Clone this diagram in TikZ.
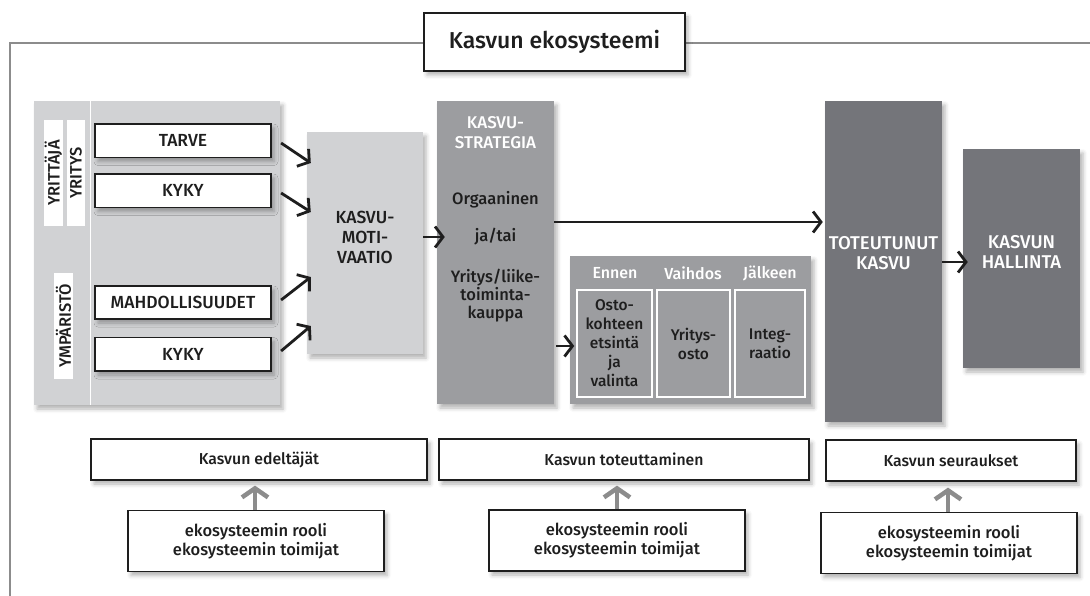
\documentclass[tikz,border=0pt]{standalone}
\usepackage{fontspec}
\setmainfont{Fira Sans Medium}
\usetikzlibrary{arrows.meta,shadows.blur}
\definecolor{ink}{HTML}{1E1E1E}
\definecolor{panel}{HTML}{D1D2D4}
\definecolor{mid}{HTML}{9C9DA0}
\definecolor{dark}{HTML}{74757A}
\definecolor{frame}{HTML}{8C8C8C}
\tikzset{
  dropsh/.style={blur shadow={shadow xshift=3pt, shadow yshift=-4pt, shadow blur radius=4pt, shadow opacity=30}},
  frameline/.style={draw=frame, line width=1.5pt},
  whitebox/.style={draw=ink, line width=1.2pt, fill=white, inner sep=0pt, text=ink, align=center, dropsh},
  panelbox/.style={fill=panel, inner sep=0pt, dropsh},
  midbox/.style={fill=mid, inner sep=0pt, dropsh},
  darkbox/.style={fill=dark, inner sep=0pt, dropsh},
  strip/.style={fill=white, inner sep=0pt, rotate=90, minimum width=106, minimum height=18.5, text=ink, font=\fontsize{16.5}{18}\selectfont},
  subbox/.style={draw=white, line width=1.5pt, fill=mid, inner sep=0pt, minimum height=107, align=center, text=ink, font=\fontsize{15.5}{19}\selectfont},
  capbox/.style={whitebox, minimum width=176, font=\fontsize{17.5}{20}\selectfont},
  phasebox/.style={whitebox, minimum height=41, font=\fontsize{15.8}{18}\selectfont},
  rolebox/.style={whitebox, minimum width=256, minimum height=61, font=\fontsize{16.5}{19}\selectfont},
  lbl/.style={text=ink, align=center, font=\fontsize{16.5}{18}\selectfont},
  wlbl/.style={text=white, align=center, font=\fontsize{15.5}{20}\selectfont},
  arr/.style={draw=ink, line width=2.8pt, -{Straight Barb[length=8pt,width=21pt]}},
  uparr/.style={draw=frame, line width=4.5pt, -{Straight Barb[length=9pt,width=26pt]}}
}
\begin{document}
\begin{tikzpicture}[x=1pt,y=-1pt]
  \useasboundingbox (0,0) rectangle (1090,596);

  % frame and title
  \draw[frameline] (10,596) -- (10,43) -- (1090,43);
  \node[whitebox, minimum width=261, minimum height=58, font=\fontsize{23}{26}\selectfont] (title) at (554.5,42) {Kasvun ekosysteemi};

  % left panel
  \node[panelbox, minimum width=246, minimum height=304] (env) at (157,253) {};
  \draw[white, line width=1.5pt] (90.5,101) -- (90.5,405);
  \node[strip] (yrittaja) at (53.3,173) {YRITTÄJÄ};
  \node[strip] (yritys) at (76,173) {YRITYS};
  \node[strip] (ymparisto) at (63.5,326) {YMPÄRISTÖ};

  \node[capbox, minimum height=33.5] (tarve) at (183,140.8) {TARVE};
  \node[capbox, minimum height=33.5] (kyky) at (183,190.8) {KYKY};
  \node[capbox, minimum height=33] (mahd) at (183,302.5) {MAHDOLLISUUDET};
  \node[capbox, minimum height=33.5] (kykyb) at (183,354.3) {KYKY};

  % motivation and strategy
  \node[panelbox, minimum width=116, minimum height=222] (motiv) at (365,243) {};
  \node[lbl, font=\fontsize{17.5}{20}\selectfont] (motivtxt) at (365,237) {KASVU-\\MOTI-\\VAATIO};

  \node[midbox, minimum width=117, minimum height=303] (strat) at (495.5,252.5) {};
  \node[wlbl, font=\fontsize{17}{20}\selectfont] (strattxt) at (495.5,132.5) {KASVU-\\STRATEGIA};
  \node[lbl] (org) at (495.5,200) {Orgaaninen};
  \node[lbl] (jatai) at (495.5,237) {ja/tai};
  \node[lbl] (kauppa) at (495.5,296) {Yritys/liike-\\toiminta-\\kauppa};

  % acquisition process
  \node[midbox, minimum width=241, minimum height=148] (proc) at (690.5,330) {};
  \node[wlbl, font=\fontsize{16}{20}\selectfont] (ennen) at (615,273) {Ennen};
  \node[wlbl, font=\fontsize{16}{20}\selectfont] (vaihdos) at (693,273) {Vaihdos};
  \node[wlbl, font=\fontsize{16}{20}\selectfont] (jalkeen) at (770,273) {Jälkeen};
  \node[subbox, minimum width=75] (etsinta) at (614.5,343.5) {Osto-\\kohteen\\etsintä\\ja\\valinta};
  \node[subbox, minimum width=73] (osto) at (693.5,343.5) {Yritys-\\osto};
  \node[subbox, minimum width=70] (integ) at (770,343.5) {Integ-\\raatio};

  % results
  \node[darkbox, minimum width=117, minimum height=321] (tot) at (883.5,261.5) {};
  \node[wlbl, font=\fontsize{18.5}{20}\selectfont] (tottxt) at (883.5,253) {TOTEUTUNUT\\KASVU};
  \node[darkbox, minimum width=117, minimum height=219] (hall) at (1021.5,258.5) {};
  \node[wlbl, font=\fontsize{18.5}{20}\selectfont] (halltxt) at (1021.5,252) {KASVUN\\HALLINTA};

  % phase labels
  \node[phasebox, minimum width=336] (edelt) at (259,459.5) {Kasvun edeltäjät};
  \node[phasebox, minimum width=370] (toteut) at (624,459.5) {Kasvun toteuttaminen};
  \node[phasebox, minimum width=250] (seur) at (951,460.5) {Kasvun seuraukset};

  \node[rolebox] (roolia) at (256,541) {ekosysteemin rooli\\ekosysteemin toimijat};
  \node[rolebox] (roolib) at (617,540.5) {ekosysteemin rooli\\ekosysteemin toimijat};
  \node[rolebox] (roolic) at (949,543) {ekosysteemin rooli\\ekosysteemin toimijat};

  % arrows
  \draw[arr] ([shift={(9.5,2.2)}]tarve.east) -- ([shift={(4,-80)}]motiv.west);
  \draw[arr] ([shift={(9.5,2.2)}]kyky.east) -- ([shift={(4,-31)}]motiv.west);
  \draw[arr] ([shift={(9.5,-2.5)}]mahd.east) -- ([shift={(4,34)}]motiv.west);
  \draw[arr] ([shift={(9.5,-3.3)}]kykyb.east) -- ([shift={(4,83)}]motiv.west);
  \draw[arr] ([shift={(0,-6)}]motiv.east) -- ([shift={(8,-15.5)}]strat.west);
  \draw[arr] ([shift={(0,-30.5)}]strat.east) -- ([shift={(-2,-39.5)}]tot.west);
  \draw[arr] ([shift={(2,93.5)}]strat.east) -- ([shift={(-2,2.5)}]etsinta.west);
  \draw[arr] ([shift={(0,0.5)}]tot.east) -- ([shift={(5,3.5)}]hall.west);

  \draw[uparr, shorten >=5pt] (roolia.north -| 255,0) -- (edelt.south -| 255,0);
  \draw[uparr, shorten >=5pt] (roolib.north -| 617,0) -- (toteut.south -| 617,0);
  \draw[uparr, shorten >=6pt] (roolic.north -| 948,0) -- (seur.south -| 948,0);
\end{tikzpicture}
\end{document}
